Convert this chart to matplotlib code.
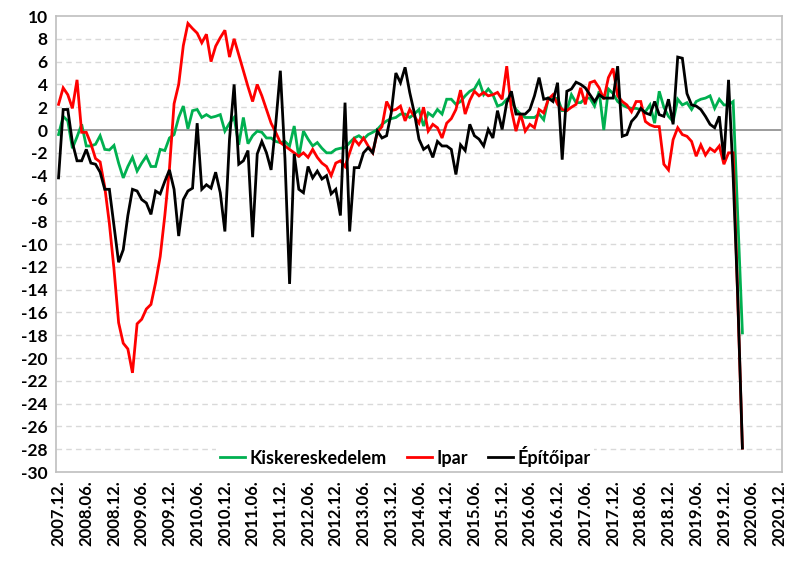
import numpy as np
import matplotlib
matplotlib.use("Agg")
import matplotlib.pyplot as plt

plt.rcParams['font.family'] = ['Lato', 'DejaVu Sans']

# Monthly series, 2007.12 .. 2020.04
kiskereskedelem = [
    -0.4, 1.2, 0.8, -1.6, -0.6, 0.5, -1.4, -1.4, -1.25, -0.5,
    -1.7, -1.75, -1.35, -2.9, -4.2, -3.2, -2.4, -3.6, -2.9, -2.3,
    -3.2, -3.2, -1.7, -1.8, -0.7, -0.4, 1.1, 2.1, 0.1, 1.7,
    1.8, 1.1, 1.35, 1.1, 1.2, 1.35, -0.1, 0.6, 1.1, -1.3,
    1.1, -1.2, -0.5, -0.1, -0.2, -0.7, -0.7, -1.0, -1.1, -1.0,
    -1.4, 0.35, -2.4, -0.1, -0.8, -1.4, -1.1, -1.6, -2.0, -2.0,
    -1.7, -1.6, -1.55, -1.1, -0.7, -0.5, -0.8, -0.4, -0.2, 0.05,
    0.5, 0.8, 1.0, 1.1, 1.4, 1.4, 1.1, 1.4, 1.8, 0.35,
    1.5, 1.2, 1.8, 1.4, 2.7, 2.7, 2.25, 2.5, 3.0, 3.4,
    3.6, 4.3, 3.1, 3.6, 3.1, 2.1, 2.25, 2.7, 2.5, 1.8,
    1.4, 1.1, 1.1, 1.1, 1.4, 0.9, 2.8, 2.7, 2.8, 1.7,
    1.7, 3.1, 2.4, 2.4, 2.8, 2.8, 2.1, 3.4, 0.0, 3.6,
    3.2, 2.5, 2.2, 2.0, 1.9, 1.9, 1.8, 1.6, 2.2, 0.6,
    3.4, 2.0, 1.2, 0.75, 2.7, 2.2, 2.4, 1.8, 2.5, 2.7,
    2.8, 3.0, 1.9, 2.7, 2.2, 2.2, 2.5, -7.6, -17.8,
]

ipar = [
    2.25, 3.7, 3.1, 1.9, 4.4, -0.2, -0.2, -1.2, -2.5, -2.8,
    -5.0, -8.2, -12.2, -16.9, -18.7, -19.2, -21.3, -17.0, -16.6, -15.7,
    -15.3, -13.4, -11.1, -7.5, -3.4, 2.3, 4.0, 7.4, 9.35, 8.9,
    8.5, 7.65, 8.4, 6.0, 7.35, 8.1, 8.75, 6.4, 8.0, 6.6,
    5.2, 3.8, 2.5, 4.0, 3.0, 1.8, 0.6, -0.2, -1.1, -1.4,
    -1.7, -2.0, -2.3, -2.0, -2.4, -1.7, -2.4, -2.9, -3.2, -4.0,
    -2.9, -2.7, -3.2, -2.0, -0.8, -1.3, -0.7, -1.4, -2.0, -0.2,
    0.3, 2.5, 1.7, 1.8, 2.1, 0.8, 1.8, 1.2, 0.6, 2.0,
    -0.1, 0.5, 0.2, -0.7, 0.6, 1.0, 1.8, 3.5, 1.4, 2.6,
    3.4, 3.0, 3.3, 3.0, 3.1, 3.3, 2.7, 5.6, 1.8, -0.1,
    1.4, -0.1, 0.5, 0.2, 1.8, 1.5, 2.7, 3.1, 2.25, 1.8,
    1.7, 2.0, 2.25, 3.7, 2.25, 4.15, 4.3, 3.7, 2.7, 4.6,
    5.4, 3.0, 2.5, 2.2, 1.6, 2.5, 2.5, 0.75, 0.45, 0.3,
    0.3, -3.0, -3.5, -0.85, 0.2, -0.4, -0.55, -1.0, -2.3, -1.3,
    -2.2, -1.6, -1.9, -1.4, -3.0, -2.0, -2.0, -15.0, -27.9,
]

epitoipar = [
    -4.2, 1.8, 1.8, -1.1, -2.7, -2.7, -1.7, -2.9, -3.0, -3.7,
    -5.2, -5.2, -8.4, -11.6, -10.5, -7.5, -5.2, -5.35, -6.1, -6.4,
    -7.4, -5.35, -5.6, -4.5, -3.5, -5.2, -9.3, -6.1, -5.35, -5.1,
    0.6, -5.2, -4.8, -5.1, -3.7, -5.5, -8.9, -0.8, 4.0, -3.0,
    -2.7, -1.8, -9.4, -2.1, -1.0, -2.0, -3.5, 0.5, 5.2, -2.5,
    -13.5, -2.1, -5.2, -5.5, -3.2, -4.2, -3.6, -4.3, -4.0, -5.6,
    -5.2, -7.5, 2.4, -8.9, -3.3, -3.3, -2.0, -1.55, -2.0, -0.1,
    -0.7, -0.5, 1.5, 5.0, 4.15, 5.5, 3.3, 1.5, -0.8, -1.7,
    -1.4, -2.4, -1.0, -1.4, -1.4, -1.7, -3.9, -1.3, -1.8, 0.5,
    -0.5, -0.8, -1.4, 0.05, -0.7, 1.7, 0.05, 2.4, 3.4, 1.4,
    1.4, 1.4, 1.8, 3.0, 4.6, 2.7, 2.8, 2.5, 4.15, -2.6,
    3.4, 3.6, 4.2, 4.0, 3.7, 3.1, 2.5, 3.1, 2.8, 2.8,
    2.8, 5.6, -0.55, -0.4, 0.75, 1.2, 1.9, 1.5, 1.35, 2.5,
    1.35, 1.2, 2.7, 0.5, 6.4, 6.3, 3.2, 2.2, 2.1, 1.8,
    1.2, 0.5, 0.2, 1.2, -2.6, 4.4, -4.1, -14.7, -27.9,
]

series_names = ["Kiskereskedelem", "Ipar", "Építőipar"]
series_colors = ["#00B050", "#FF0000", "#000000"]

x_tick_labels = [
    "2007.12.", "2008.06.", "2008.12.", "2009.06.", "2009.12.", "2010.06.",
    "2010.12.", "2011.06.", "2011.12.", "2012.06.", "2012.12.", "2013.06.",
    "2013.12.", "2014.06.", "2014.12.", "2015.06.", "2015.12.", "2016.06.",
    "2016.12.", "2017.06.", "2017.12.", "2018.06.", "2018.12.", "2019.06.",
    "2019.12.", "2020.06.", "2020.12.",
]
y_ticks = list(range(-30, 11, 2))

fig = plt.figure(figsize=(7.91, 5.62), dpi=100)
ax = fig.add_axes([0.0708, 0.1601, 0.918, 0.8114])

months = np.arange(len(kiskereskedelem))
for vals, name, col in zip([kiskereskedelem, ipar, epitoipar], series_names, series_colors):
    ax.plot(months, vals, color=col, lw=2.0, label=name, solid_joinstyle='miter', zorder=3)

ax.set_xlim(-0.55, 156.6)
ax.set_ylim(-30, 10)
ax.set_xticks(np.arange(0, 6 * len(x_tick_labels), 6))
ax.set_xticklabels(x_tick_labels, rotation=90, fontsize=12, fontweight='bold')
ax.set_yticks(y_ticks)
ax.set_yticklabels([str(v) for v in y_ticks], fontsize=12.5, fontweight='bold')
ax.tick_params(axis='both', length=0, pad=6)

for v in y_ticks:
    if v == 0:
        ax.axhline(0, color='#8C8C8C', lw=1.2, zorder=2)
    elif v not in (-30, 10):
        ax.axhline(v, color='#D9D9D9', lw=1.0, ls=(0, (4, 3)), zorder=1)

for s in ax.spines.values():
    s.set_color('#BFBFBF')
    s.set_linewidth(1.2)

leg = ax.legend(loc='center', bbox_to_anchor=(0.481, 0.035), ncol=3,
                frameon=True, handlelength=1.4, handletextpad=0.25,
                columnspacing=1.1, borderpad=0.2,
                prop={'weight': 'bold', 'size': 13})
leg.get_frame().set_facecolor('white')
leg.get_frame().set_edgecolor('none')
leg.get_frame().set_alpha(1)

fig.savefig("out.png", dpi=100)
